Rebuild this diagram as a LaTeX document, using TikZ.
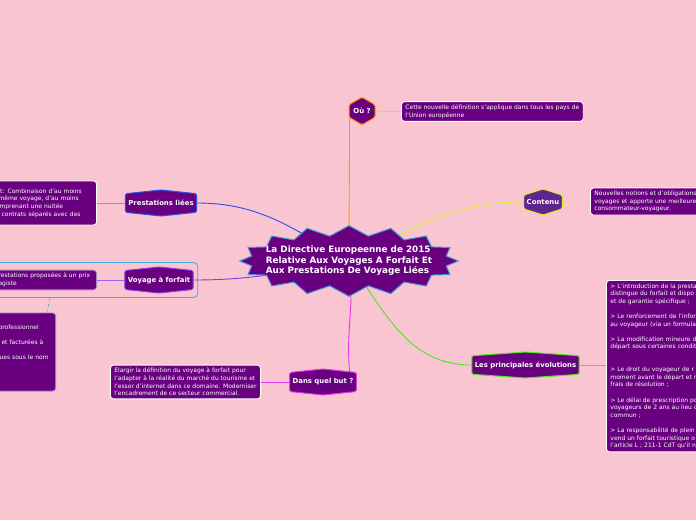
\documentclass[tikz,border=0pt]{standalone}
\usepackage{fontspec}
\setmainfont{DejaVu Sans}
\usepackage{tikz}
\usetikzlibrary{
	shapes.symbols,
	fit
}
\definecolor{bgpink}{RGB}{249,197,208}
\definecolor{deeppurple}{RGB}{104,0,128}
\definecolor{contpurple}{RGB}{92,38,140}
\definecolor{starblue}{RGB}{66,150,214}
\definecolor{ouorange}{RGB}{255,150,10}
\definecolor{limeline}{RGB}{214,240,40}
\definecolor{greenline}{RGB}{80,230,30}
\definecolor{pinkline}{RGB}{232,50,232}
\definecolor{blueline}{RGB}{40,80,235}
\definecolor{violetline}{RGB}{130,60,235}
\definecolor{groupblue}{RGB}{60,170,225}
\definecolor{greyframe}{RGB}{170,140,190}
\definecolor{lilacframe}{RGB}{150,120,205}

\newcommand{\lbox}[1]{
	\begin{tabular}{@{}l@{}}
		#1
	\end{tabular}
}

\tikzset{
	hubstar/.style={shape=starburst, starburst points=16, starburst point height=10pt,
		random starburst=0, fill=deeppurple, draw=starblue, line width=1pt, text=white,
		font=\fontsize{8.8}{10.6}\selectfont\bfseries, minimum width=0pt, minimum height=64pt,
		inner xsep=-13pt, inner ysep=2pt},
	topic/.style={shape=signal, signal to=north and south, signal pointer angle=#1,
		line width=1pt, fill=deeppurple, text=white, font=\fontsize{6.9}{8}\selectfont\bfseries,
		inner xsep=3pt, inner ysep=2pt, minimum height=26pt, rounded corners=1.5pt},
	topic/.default=168,
	note/.style={draw=white, line width=0.9pt, fill=deeppurple, text=white, rounded corners=3pt,
		font=\fontsize{6}{7.6}\selectfont, inner xsep=4pt, inner ysep=3pt, align=left},
	branch/.style={line width=0.9pt},
	link/.style={line width=0.7pt}
}

\begin{document}
\begin{tikzpicture}[x=1pt,y=1pt]
			\useasboundingbox (0,0) rectangle (696,-520);
			\fill[bgpink] (0,0) rectangle (696,-520);
			\clip (0,0) rectangle (696,-520);

			\node[topic, draw=blueline] (pl) at (161,-203) {Prestations liées};
			\node[topic, draw=violetline] (vaf) at (159,-280) {Voyage à forfait};
			\node[topic, draw=pinkline] (but) at (323,-382) {Dans quel but ?};
			\node[topic=172, draw=greenline] (evol) at (525.5,-365) {Les principales évolutions};
			\node[topic=145, draw=limeline, fill=contpurple] (cont) at (543,-202) {Contenu};
			\node[topic=120, draw=ouorange, minimum width=26pt] (ou) at (362,-111) {Où ?};

			\node[note, anchor=west] (oub) at (401,-111.5)
				{Cette nouvelle définition s'applique dans tous les pays de\\l'Union européenne};
			\node[note, anchor=west, text width=130pt] (contb) at (590,-201.5)
				{Nouvelles notions et d'obligations\\voyages et apporte une meilleure\\consommateur-voyageur.};
			\node[note, anchor=north west, text width=150pt] (evolb) at (606,-280)
				{> L'introduction de la presta\\distingue du forfait et dispo\\et de garantie spécifique ;\\\mbox{}\\
				 > Le renforcement de l'infor\\au voyageur (via un formula\\\mbox{}\\
				 > La modification mineure d\\départ sous certaines condit\\\mbox{}\\\mbox{}\\
				 > Le droit du voyageur de r\\moment avant le départ et n\\frais de résolution ;\\\mbox{}\\
				 > Le délai de prescription po\\voyageurs de 2 ans au lieu d\\commun ;\\\mbox{}\\
				 > La responsabilité de plein\\vend un forfait touristique o\\l'article L ; 211-1 CdT qu'il n};
			\node[note, anchor=east] (butb) at (261,-382)
				{Elargir la définition du voyage à forfait pour\\l'adapter à la réalité du marché du tourisme et\\l'essor d'internet dans ce domaine. Moderniser\\l'encadrement de ce secteur commercial.};
			\node[note, anchor=east, text width=94pt, minimum height=44pt] (plb) at (97,-203)
				{it: Combinaison d'au moins\\même voyage, d'au moins\\\hspace*{1pt}mprenant une nuitée\\\hspace*{3pt}contrats séparés avec des};
			\node[note, anchor=east, text width=94pt, draw=greyframe] (vafb) at (97,-280)
				{restations proposées à un prix\\agiste};
			\node[note, anchor=east, text width=51pt, minimum height=78pt, draw=lilacframe] (b3) at (56,-352)
				{\mbox{}\\\hspace*{-2pt}professionnel\\\mbox{}\\\hspace*{1pt}et facturées à\\\mbox{}\\\hspace*{-1pt}ues sous le nom\\\mbox{}\\\mbox{}\\\mbox{}};

			\node[draw=groupblue, line width=0.8pt, rounded corners=4pt, inner sep=4pt, fit=(vafb)(vaf)] (grp) {};
			\draw[groupblue, dashed, line width=0.6pt] (grp.south -| 50,0) to[out=-90,in=90] ([xshift=-9pt]b3.north east);

			\draw[branch, ouorange] (349,-261) coordinate (hubc) to[out=90,in=-90] (ou.210);
			\draw[branch, limeline] (hubc) to[out=27,in=180] (cont.west);
			\draw[branch, greenline] (hubc) to[out=-55,in=180] (evol.west);
			\draw[branch, pinkline] (hubc) to[out=-82,in=95] (but.22);
			\draw[branch, blueline] (hubc) to[out=150,in=0] (pl.east);
			\draw[branch, violetline] (hubc) to[out=190,in=0] (vaf.east);

			\draw[link, ouorange!70] (ou.east) -- (oub.west);
			\draw[link, limeline] (cont.east) -- (contb.west);
			\draw[link, greenline] (evol.east) -- (evolb.west |- evol.east);
			\draw[link, pinkline] (but.west) -- (butb.east);
			\draw[link, blueline!60] (pl.west) -- (plb.east);
			\draw[link, violetline!80] (vaf.west) -- (vafb.east);

			\node[hubstar] (hub) at (hubc)
				{\lbox{La Directive Europeenne de 2015\\Relative Aux Voyages A Forfait Et\\Aux Prestations De Voyage Liées}};
		\end{tikzpicture}
\end{document}
